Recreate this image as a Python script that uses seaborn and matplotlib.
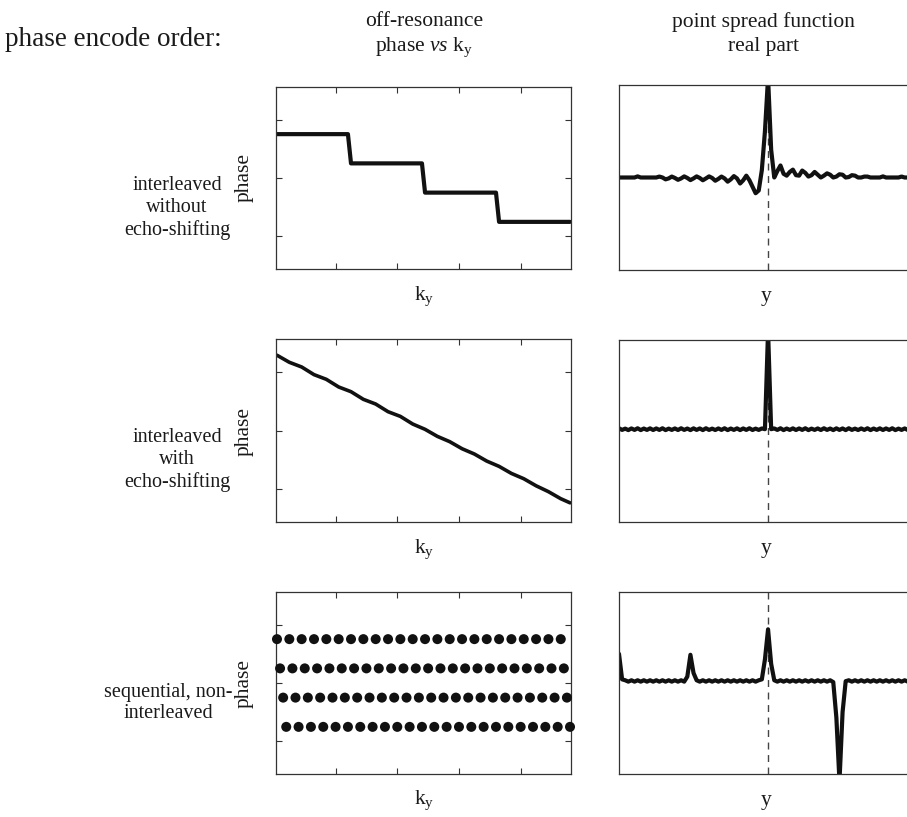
import numpy as np
import pandas as pd
import matplotlib
matplotlib.use("Agg")
import matplotlib.pyplot as plt
import seaborn as sns

# ---------------- data ----------------
ky = list(range(1, 97))
step_levels = [0.75, 0.25, -0.25, -0.75]      # phase of the 4 echo groups
lines_per_level = 24

linear_ky = [1, 5, 9, 13, 17, 21, 25, 29, 33, 37, 41, 45, 49, 53, 57, 61, 65, 69,
             73, 77, 81, 85, 89, 93, 96]
linear_phase = [1.28, 1.16, 1.08, 0.95, 0.87, 0.74, 0.66, 0.53, 0.45, 0.32, 0.24,
                0.11, 0.02, -0.10, -0.19, -0.31, -0.40, -0.52, -0.61, -0.73, -0.82,
                -0.94, -1.04, -1.16, -1.23]

psf_y = list(range(-48, 48))
psf_interleaved = (
    [0.0, 0.0, 0.0, 0.0, 0.0, 0.0, 0.012, 0.0, 0.0, 0.0, 0.0, 0.0, 0.0]
    + [0.01, 0.0, -0.02, -0.01, 0.01, -0.005, -0.025, -0.01, 0.012, -0.005,
       -0.028, -0.01, 0.012, -0.005, -0.03, -0.01, 0.012, -0.005, -0.035, -0.015,
       0.01, -0.01, -0.045, -0.02, 0.015, -0.01, -0.065, -0.03, 0.02, -0.03,
       -0.1, -0.17, -0.14, 0.08, 0.5]
    + [1.08, 0.3, 0.0, 0.07, 0.13, 0.04, 0.02, 0.06, 0.085, 0.025,
       0.02, 0.075, 0.05, 0.01, 0.025, 0.06, 0.03, 0.0, 0.02, 0.045,
       0.03, 0.0, 0.01, 0.035, 0.03, 0.0, 0.005, 0.025, 0.02, 0.0,
       0.0, 0.01, 0.01, 0.0, 0.0, 0.0, 0.0, 0.012, 0.0, 0.0,
       0.0, 0.0, 0.0, 0.01, 0.0, 0.0, 0.0, 0.0]
)
psf_shifted = (
    [0.03, 0.012, 0.026, 0.01, 0.028, 0.012, 0.03, 0.01, 0.027, 0.012, 0.029, 0.011]
    + [0.028, 0.012, 0.03, 0.01, 0.026, 0.012, 0.028, 0.011, 0.03, 0.012, 0.027, 0.01]
    + [0.029, 0.012, 0.028, 0.01, 0.03, 0.012, 0.026, 0.011, 0.028, 0.012, 0.03, 0.01]
    + [0.027, 0.012, 0.029, 0.01, 0.028, 0.012, 0.03, 0.011, 0.026, 0.012, 0.028, 0.02]
    + [1.1, 0.02, 0.028, 0.012, 0.03, 0.01, 0.027, 0.012, 0.029, 0.011, 0.028, 0.012]
    + [0.03, 0.01, 0.026, 0.012, 0.028, 0.011, 0.03, 0.012, 0.027, 0.01, 0.029, 0.012]
    + [0.028, 0.01, 0.03, 0.012, 0.026, 0.011, 0.028, 0.012, 0.03, 0.01, 0.027, 0.012]
    + [0.029, 0.011, 0.028, 0.012, 0.03, 0.01, 0.026, 0.012, 0.028, 0.011, 0.03, 0.012]
)
psf_sequential = (
    [0.32, 0.04, 0.03, 0.015, 0.03, 0.015, 0.03, 0.015, 0.03, 0.015, 0.03, 0.015]
    + [0.03, 0.015, 0.03, 0.015, 0.03, 0.015, 0.03, 0.015, 0.03, 0.015, 0.07, 0.31]
    + [0.11, 0.03, 0.015, 0.03, 0.015, 0.03, 0.015, 0.03, 0.015, 0.03, 0.015, 0.03]
    + [0.015, 0.03, 0.015, 0.03, 0.015, 0.03, 0.015, 0.03, 0.015, 0.03, 0.04, 0.26]
    + [0.59, 0.21, 0.03, 0.015, 0.03, 0.015, 0.03, 0.015, 0.03, 0.015, 0.03, 0.015]
    + [0.03, 0.015, 0.03, 0.015, 0.03, 0.015, 0.03, 0.015, 0.03, 0.01, -0.38, -1.08]
    + [-0.32, 0.02, 0.03, 0.015, 0.03, 0.015, 0.03, 0.015, 0.03, 0.015, 0.03, 0.015]
    + [0.03, 0.015, 0.03, 0.015, 0.03, 0.015, 0.03, 0.015, 0.03, 0.015, 0.03, 0.015]
)

row_labels = ["interleaved\nwithout\necho-shifting",
              "interleaved\nwith\necho-shifting",
              "sequential, non-\ninterleaved"]

# ---------------- style ----------------
sns.set_style("white")
plt.rcParams["font.family"] = ["Liberation Serif", "DejaVu Serif"]
plt.rcParams["mathtext.fontset"] = "custom"
plt.rcParams["mathtext.rm"] = "Liberation Serif"
plt.rcParams["mathtext.it"] = "Liberation Serif:italic"

W, H = 907, 817
fig = plt.figure(figsize=(W / 100, H / 100), dpi=100)
INK = "#111111"
SPINE = "#333333"
FS = 15.5


def add_ax(x0, y0, x1, y1):
    return fig.add_axes([x0 / W, 1 - y1 / H, (x1 - x0) / W, (y1 - y0) / H])


def ftext(x, y, s, **kw):
    kw.setdefault("fontsize", FS)
    kw.setdefault("ha", "center")
    kw.setdefault("va", "center")
    fig.text(x / W, 1 - y / H, s, color="#1a1a1a", **kw)


left_rows = [(87, 269), (339, 522), (592, 774)]
right_rows = [(85, 270), (340, 522), (592, 774)]

# tables
step_df = pd.DataFrame({"ky": ky, "phase": np.repeat(step_levels, lines_per_level)})
lin_df = pd.DataFrame({"ky": linear_ky, "phase": linear_phase})
seq_df = pd.DataFrame({"ky": ky, "phase": np.tile(step_levels, lines_per_level)})
psfs = [psf_interleaved, psf_shifted, psf_sequential]

for r in range(3):
    # ---- left: phase vs ky ----
    y0, y1 = left_rows[r]
    ax = add_ax(276, y0, 571, y1)
    if r == 0:
        sns.lineplot(data=step_df, x="ky", y="phase", ax=ax, color=INK, lw=3.0)
    elif r == 1:
        sns.lineplot(data=lin_df, x="ky", y="phase", ax=ax, color=INK, lw=2.6)
    else:
        sns.scatterplot(data=seq_df, x="ky", y="phase", ax=ax, color=INK, s=52,
                        edgecolor="none", clip_on=False, zorder=3)
    ax.set_xlim(0.68, 96.32)
    ax.set_ylim(-1.556, 1.556)
    ax.set_xticks([20, 40, 60, 80])
    ax.set_yticks([-1, 0, 1])
    ax.tick_params(direction="in", length=4, width=0.8, color=SPINE,
                   top=True, right=True, bottom=True, left=True,
                   labelbottom=False, labelleft=False)
    ax.set_xlabel("")
    ax.set_ylabel("")
    for sp in ax.spines.values():
        sp.set_color(SPINE)
        sp.set_linewidth(0.9)

    # ---- right: PSF ----
    y0, y1 = right_rows[r]
    ax2 = add_ax(619, y0, 914, y1)
    ax2.axvline(0, color="#444444", lw=1.0, ls=(0, (5, 4)), zorder=1)
    psf_df = pd.DataFrame({"y": psf_y, "psf": psfs[r]})
    sns.lineplot(data=psf_df, x="y", y="psf", ax=ax2, color=INK, lw=3.0, zorder=2)
    ax2.set_xlim(-48, 47)
    ax2.set_ylim(-1, 1)
    ax2.set_xticks([])
    ax2.set_yticks([])
    ax2.set_xlabel("")
    ax2.set_ylabel("")
    for sp in ax2.spines.values():
        sp.set_color(SPINE)
        sp.set_linewidth(0.9)

# ---------------- texts ----------------
ftext(5, 40, "phase encode order:", ha="left", fontsize=19.5)
ftext(424, 22, "off-resonance")
ftext(424, 47, r"phase $\mathit{vs}$ $\mathrm{k_y}$")
ftext(763, 22, "point spread function")
ftext(763, 47, "real part")

row_centers = [(177, 208), (177, 460), (168, 703)]
for lab, (xc, yc) in zip(row_labels, row_centers):
    ftext(xc, yc, lab, linespacing=1.2, fontsize=14.5)

for yc in [178, 431, 683]:
    ftext(244, yc, "phase", rotation=90)

for yb in [296, 549, 800]:
    ftext(424, yb, r"$\mathrm{k_y}$")
    ftext(766, yb, "y")

fig.savefig("out.png", dpi=100)
